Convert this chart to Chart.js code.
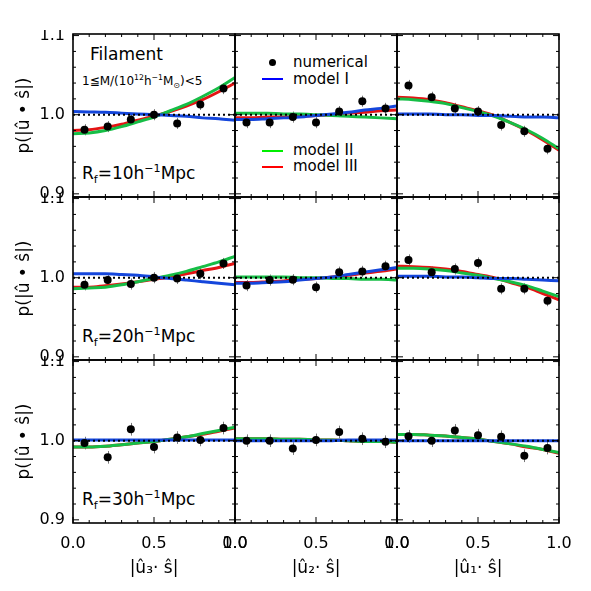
<!DOCTYPE html>
<html>
<head>
<meta charset="utf-8">
<script src="https://cdn.jsdelivr.net/npm/chart.js@4.4.0/dist/chart.umd.min.js"></script>
<style>
body { margin: 0; background: #fff; }
#wrap { position: relative; width: 591px; height: 591px; overflow: hidden; font-family: "DejaVu Sans", sans-serif; color: #000; }
#wrap canvas { position: absolute; }
.lab { position: absolute; white-space: nowrap; line-height: 1; }
.lab sub, .lab sup { font-size: 0.65em; line-height: 0; }
.swatch { position: absolute; width: 21px; height: 2px; }
.dot { position: absolute; width: 7px; height: 7px; border-radius: 50%; background: #000; }
</style>
</head>
<body>
<div id="wrap">
  <div class="lab" style="left:90px;top:46px;font-size:17px">Filament</div>
  <div class="lab" style="left:82px;top:75px;font-size:12px">1≦M/(10<sup>12</sup>h<sup>−1</sup>M<sub>⊙</sub>)&lt;5</div>
  <div class="lab" style="left:82px;top:165px;font-size:17px">R<sub>f</sub>=10h<sup>−1</sup>Mpc</div>
  <div class="lab" style="left:82px;top:328px;font-size:17px">R<sub>f</sub>=20h<sup>−1</sup>Mpc</div>
  <div class="lab" style="left:82px;top:491px;font-size:17px">R<sub>f</sub>=30h<sup>−1</sup>Mpc</div>

  <div class="dot" style="left:269px;top:59px"></div>
  <div class="lab" style="left:293px;top:55px;font-size:15px">numerical</div>
  <div class="swatch" style="left:262px;top:78px;background:#0000ff"></div>
  <div class="lab" style="left:293px;top:72px;font-size:15px">model I</div>
  <div class="swatch" style="left:262px;top:150px;background:#00ee00"></div>
  <div class="lab" style="left:293px;top:143px;font-size:15px">model II</div>
  <div class="swatch" style="left:262px;top:166px;background:#ff0000"></div>
  <div class="lab" style="left:293px;top:159px;font-size:15px">model III</div>
</div>
<script>
// bin centres of the numerical points and sample points of the model curves
const binX = [0.071, 0.214, 0.357, 0.5, 0.643, 0.786, 0.929]
const curveX = [0, 0.1, 0.2, 0.3, 0.4, 0.5, 0.6, 0.7, 0.8, 0.9, 1.0]
const xTicks = [0, 0.5, 1]
const yTicks = [0.9, 1.0, 1.1]
const xTitles = ['|û₃· ŝ|', '|û₂· ŝ|', '|û₁· ŝ|']
const yTitle = 'p(|û • ŝ|)'

// Rf = 10
const num_10_u3 = [0.981, 0.985, 0.994, 1.000, 0.989, 1.013, 1.033]
const num_10_u2 = [0.990, 0.990, 0.997, 0.990, 1.004, 1.017, 1.008]
const num_10_u1 = [1.037, 1.022, 1.008, 1.004, 0.987, 0.979, 0.957]
const err_10 = [0.007, 0.007, 0.007, 0.007, 0.007, 0.007, 0.007]
const m1_10_u3 = [1.004, 1.0035, 1.003, 1.002, 1.001, 1.000, 0.999, 0.998, 0.996, 0.995, 0.993]
const m2_10_u3 = [0.976, 0.977, 0.980, 0.985, 0.991, 0.997, 1.005, 1.013, 1.023, 1.034, 1.047]
const m3_10_u3 = [0.980, 0.981, 0.984, 0.988, 0.993, 0.998, 1.004, 1.011, 1.019, 1.029, 1.040]
const m1_10_u2 = [0.994, 0.994, 0.995, 0.996, 0.997, 0.999, 1.001, 1.003, 1.006, 1.008, 1.011]
const m2_10_u2 = [1.002, 1.002, 1.002, 1.001, 1.001, 1.000, 0.999, 0.998, 0.997, 0.996, 0.995]
const m3_10_u2 = [0.996, 0.996, 0.997, 0.997, 0.998, 0.999, 1.000, 1.002, 1.003, 1.005, 1.006]
const m1_10_u1 = [1.001, 1.001, 1.001, 1.000, 1.000, 0.999, 0.999, 0.998, 0.997, 0.997, 0.996]
const m2_10_u1 = [1.020, 1.019, 1.017, 1.014, 1.009, 1.004, 0.998, 0.990, 0.981, 0.970, 0.957]
const m3_10_u1 = [1.022, 1.021, 1.019, 1.015, 1.010, 1.005, 0.999, 0.990, 0.980, 0.968, 0.955]

// Rf = 20
const num_20_u3 = [0.991, 0.997, 0.992, 1.000, 0.999, 1.005, 1.018]
const num_20_u2 = [0.990, 0.997, 0.9975, 0.988, 1.007, 1.008, 1.0145]
const num_20_u1 = [1.0225, 1.007, 1.011, 1.0187, 0.986, 0.986, 0.971]
const err_20 = [0.007, 0.007, 0.007, 0.007, 0.007, 0.007, 0.007]
const m1_20_u3 = [1.005, 1.005, 1.005, 1.004, 1.003, 1.001, 0.999, 0.997, 0.995, 0.993, 0.991]
const m2_20_u3 = [0.986, 0.987, 0.988, 0.991, 0.995, 0.999, 1.003, 1.008, 1.014, 1.020, 1.027]
const m3_20_u3 = [0.988, 0.988, 0.990, 0.992, 0.995, 0.998, 1.001, 1.005, 1.009, 1.013, 1.018]
const m1_20_u2 = [0.993, 0.993, 0.994, 0.995, 0.997, 0.999, 1.001, 1.004, 1.007, 1.010, 1.013]
const m2_20_u2 = [1.001, 1.001, 1.001, 1.001, 1.000, 1.000, 0.999, 0.999, 0.998, 0.998, 0.997]
const m3_20_u2 = [0.994, 0.994, 0.995, 0.996, 0.998, 0.999, 1.001, 1.003, 1.006, 1.008, 1.011]
const m1_20_u1 = [1.002, 1.002, 1.002, 1.001, 1.001, 1.000, 0.999, 0.999, 0.998, 0.997, 0.996]
const m2_20_u1 = [1.012, 1.012, 1.011, 1.009, 1.006, 1.003, 0.999, 0.995, 0.990, 0.983, 0.976]
const m3_20_u1 = [1.0145, 1.014, 1.013, 1.011, 1.008, 1.004, 1.000, 0.994, 0.988, 0.980, 0.972]

// Rf = 30
const num_30_u3 = [0.997, 0.979, 1.0145, 0.992, 1.004, 1.001, 1.016]
const num_30_u2 = [1.000, 1.000, 0.990, 1.001, 1.011, 1.0025, 0.9987]
const num_30_u1 = [1.0056, 1.000, 1.013, 1.007, 1.005, 0.981, 0.9907]
const err_30 = [0.008, 0.008, 0.008, 0.008, 0.008, 0.008, 0.008]
const m1_30_u3 = [1.001, 1.001, 1.001, 1.001, 1.001, 1.001, 1.001, 1.001, 1.001, 1.001, 1.001]
const m2_30_u3 = [0.992, 0.992, 0.993, 0.995, 0.997, 0.999, 1.002, 1.005, 1.009, 1.013, 1.017]
const m3_30_u3 = [0.992, 0.992, 0.993, 0.995, 0.997, 0.999, 1.002, 1.005, 1.008, 1.012, 1.016]
const m1_30_u2 = [1.000, 1.000, 1.000, 1.000, 1.000, 1.000, 1.000, 1.001, 1.001, 1.001, 1.001]
const m2_30_u2 = [1.0025, 1.0025, 1.0025, 1.002, 1.002, 1.001, 1.001, 1.000, 0.999, 0.999, 0.998]
const m3_30_u2 = [1.0025, 1.0025, 1.0025, 1.002, 1.002, 1.001, 1.001, 1.000, 0.999, 0.999, 0.998]
const m1_30_u1 = [1.000, 1.000, 1.000, 1.000, 1.000, 1.000, 1.000, 1.000, 1.000, 1.000, 1.000]
const m2_30_u1 = [1.008, 1.008, 1.007, 1.006, 1.004, 1.002, 0.999, 0.996, 0.993, 0.989, 0.985]
const m3_30_u1 = [1.008, 1.008, 1.007, 1.006, 1.004, 1.002, 0.999, 0.996, 0.992, 0.989, 0.984]

const panels = [
	[[num_10_u3, err_10, m1_10_u3, m2_10_u3, m3_10_u3], [num_10_u2, err_10, m1_10_u2, m2_10_u2, m3_10_u2], [num_10_u1, err_10, m1_10_u1, m2_10_u1, m3_10_u1]],
	[[num_20_u3, err_20, m1_20_u3, m2_20_u3, m3_20_u3], [num_20_u2, err_20, m1_20_u2, m2_20_u2, m3_20_u2], [num_20_u1, err_20, m1_20_u1, m2_20_u1, m3_20_u1]],
	[[num_30_u3, err_30, m1_30_u3, m2_30_u3, m3_30_u3], [num_30_u2, err_30, m1_30_u2, m2_30_u2, m3_30_u2], [num_30_u1, err_30, m1_30_u1, m2_30_u1, m3_30_u1]],
]

// panel placement in the page
const colX = [73, 235, 397]
const rowY = [34, 197, 360]
const panelW = 162, panelH = 163
const axisW = 73, axisH = 60, padTop = 4, padRight = 22

const pts = (xs, ys) => xs.map((x, i) => ({x: x, y: ys[i]}))

// error bars under the marks, frame and inward ticks on top
const framePlugin = {
	id: 'frame',
	beforeDatasetsDraw(chart, args, opts) {
		const ctx = chart.ctx, xs = chart.scales.x, ys = chart.scales.y
		ctx.save()
		ctx.strokeStyle = '#777'
		ctx.lineWidth = 1
		opts.num.forEach((v, i) => {
			const px = Math.round(xs.getPixelForValue(binX[i])) + 0.5
			ctx.beginPath()
			ctx.moveTo(px, ys.getPixelForValue(v - opts.err[i]))
			ctx.lineTo(px, ys.getPixelForValue(v + opts.err[i]))
			ctx.stroke()
		})
		ctx.restore()
	},
	afterDatasetsDraw(chart) {
		const ctx = chart.ctx, a = chart.chartArea, xs = chart.scales.x, ys = chart.scales.y
		ctx.save()
		ctx.strokeStyle = '#000'
		ctx.lineWidth = 1
		for (let i = 0; i <= 10; i++) {
			const px = xs.getPixelForValue(i / 10)
			const len = (i % 5 == 0) ? 6 : 3
			ctx.beginPath()
			ctx.moveTo(px, a.bottom); ctx.lineTo(px, a.bottom - len)
			ctx.moveTo(px, a.top); ctx.lineTo(px, a.top + len)
			ctx.stroke()
			const py = ys.getPixelForValue(0.9 + i * 0.02)
			ctx.beginPath()
			ctx.moveTo(a.left, py); ctx.lineTo(a.left + len, py)
			ctx.moveTo(a.right, py); ctx.lineTo(a.right - len, py)
			ctx.stroke()
		}
		ctx.lineWidth = 1.6
		ctx.strokeRect(a.left, a.top, a.right - a.left, a.bottom - a.top)
		ctx.restore()
	}
}

function makePanel(r, c) {
	const d = panels[r][c]
	const showY = c == 0, showX = r == 2
	const cv = document.createElement('canvas')
	const w = axisW + panelW + padRight, h = padTop + panelH + axisH
	cv.style.left = (colX[c] - axisW) + 'px'
	cv.style.top = (rowY[r] - padTop) + 'px'
	cv.style.width = w + 'px'
	cv.style.height = h + 'px'
	cv.width = w; cv.height = h
	document.getElementById('wrap').appendChild(cv)
	return new Chart(cv, {
		type: 'line',
		data: {
			datasets: [
				{ label: 'numerical', data: pts(binX, d[0]), showLine: false, pointRadius: 4, pointBackgroundColor: '#000', pointBorderWidth: 0 },
				{ label: 'unity', data: pts([0, 1], [1, 1]), borderColor: '#000', borderWidth: 2, borderDash: [2, 3], pointRadius: 0 },
				{ label: 'model I', data: pts(curveX, d[2]), borderColor: '#1446dc', borderWidth: 3, pointRadius: 0, cubicInterpolationMode: 'monotone' },
				{ label: 'model II', data: pts(curveX, d[3]), borderColor: '#16be46', borderWidth: 3, pointRadius: 0, cubicInterpolationMode: 'monotone' },
				{ label: 'model III', data: pts(curveX, d[4]), borderColor: '#e41414', borderWidth: 3, pointRadius: 0, cubicInterpolationMode: 'monotone' },
			]
		},
		options: {
			responsive: false,
			animation: false,
			events: [],
			layout: { padding: { top: padTop, right: padRight, left: 0, bottom: 0 } },
			plugins: { legend: { display: false }, tooltip: { enabled: false }, frame: { num: d[0], err: d[1] } },
			scales: {
				x: {
					type: 'linear', min: 0, max: 1,
					grid: { display: false, drawTicks: false }, border: { display: false },
					afterBuildTicks: s => { s.ticks = xTicks.map(v => ({value: v})) },
					afterFit: s => { s.height = axisH; s.paddingLeft = 0; s.paddingRight = 0 },
					ticks: { display: showX, padding: 11, color: '#000', font: { family: 'DejaVu Sans', size: 16 }, callback: v => v.toFixed(1), maxRotation: 0, autoSkip: false },
					title: { display: showX, text: xTitles[c], color: '#000', padding: { top: 2 }, font: { family: 'DejaVu Sans', size: 17 } }
				},
				y: {
					type: 'linear', min: 0.896, max: 1.102,
					grid: { display: false, drawTicks: false }, border: { display: false },
					afterBuildTicks: s => { s.ticks = yTicks.map(v => ({value: v})) },
					afterFit: s => { s.width = axisW; s.paddingTop = 0; s.paddingBottom = 0 },
					ticks: { display: showY, padding: 8, color: '#000', font: { family: 'DejaVu Sans', size: 16 }, callback: v => v.toFixed(1), autoSkip: false },
					title: { display: showY, text: yTitle, color: '#000', padding: { top: 14, bottom: 0 }, font: { family: 'DejaVu Sans', size: 17 } }
				}
			}
		},
		plugins: [framePlugin]
	})
}

for (let r = 0; r < 3; r++)
	for (let c = 0; c < 3; c++)
		makePanel(r, c)
</script>
</body>
</html>
